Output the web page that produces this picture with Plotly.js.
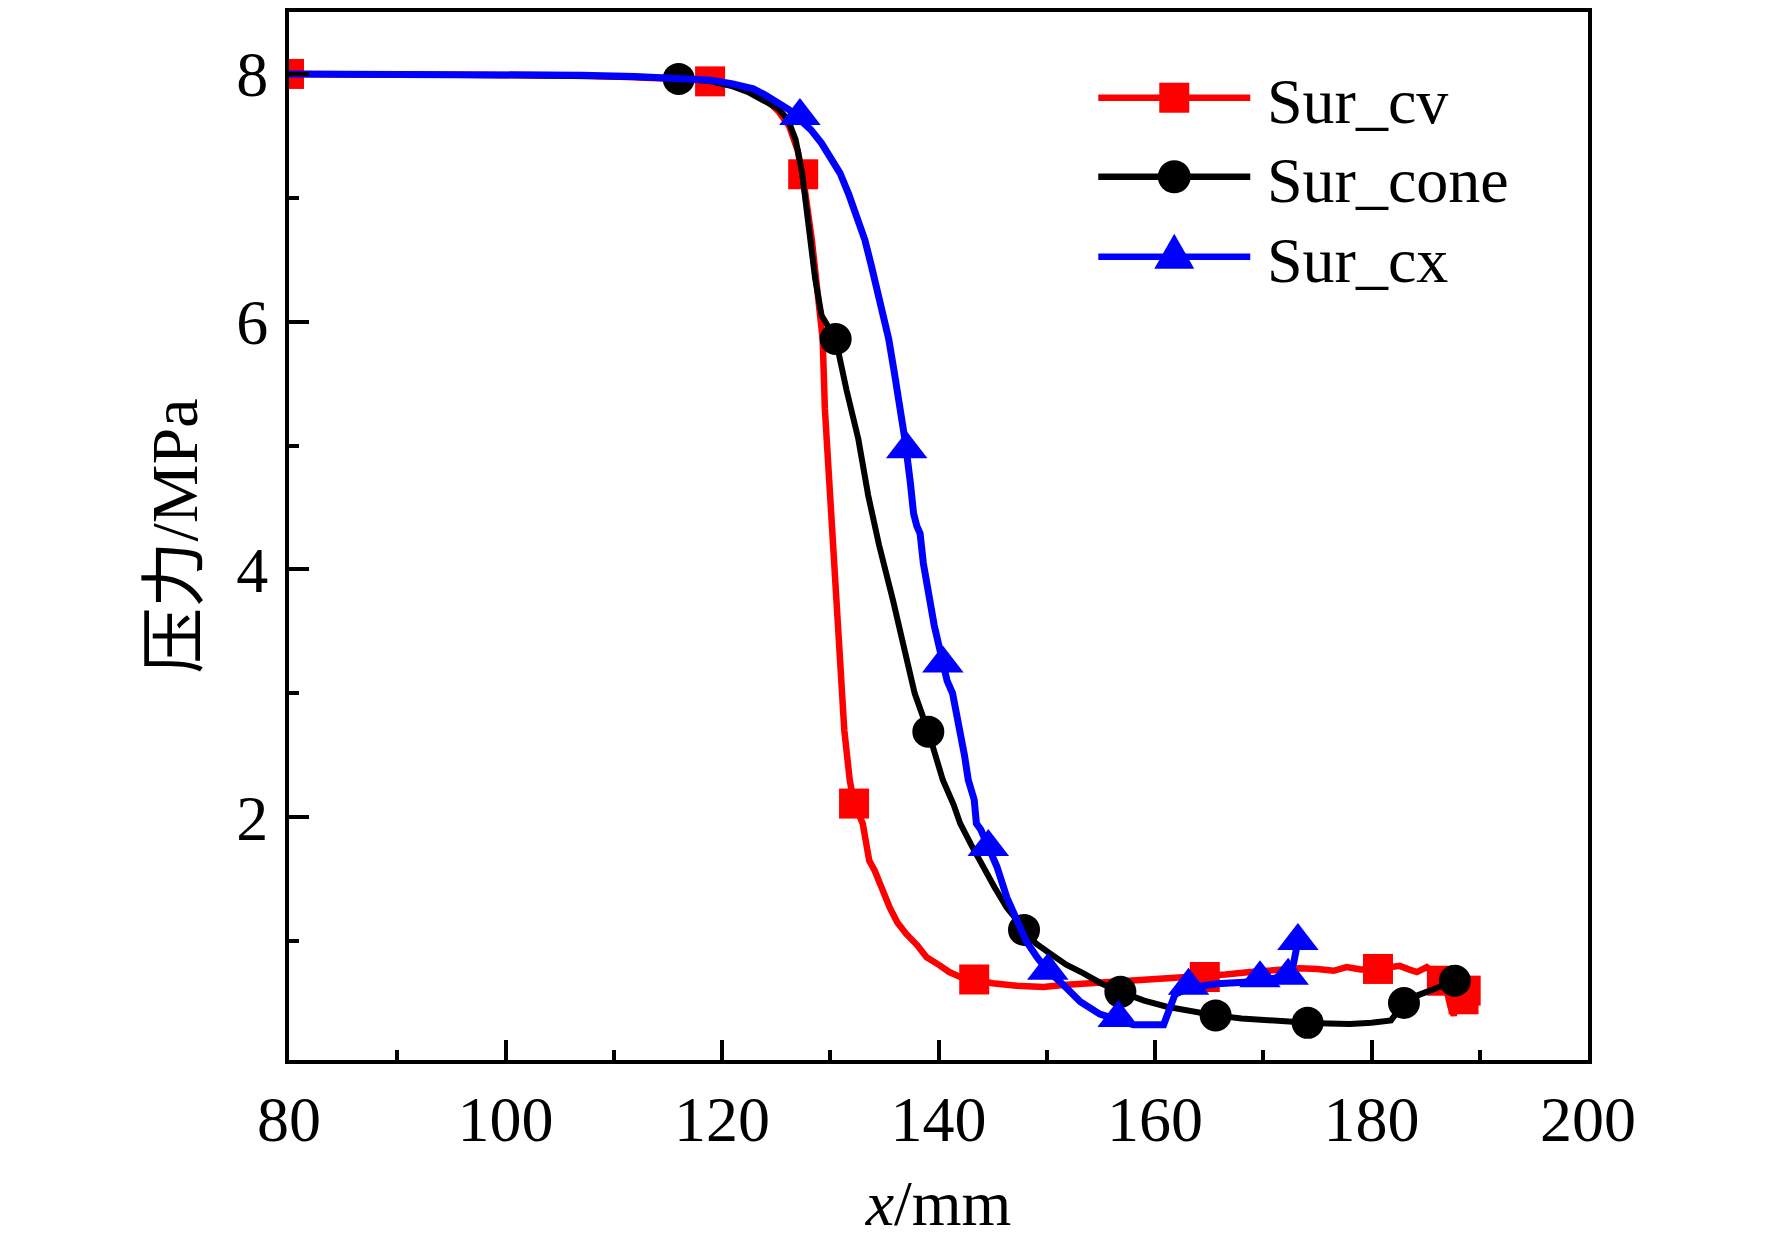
<!DOCTYPE html>
<html>
<head>
<meta charset="utf-8">
<script src="https://cdn.plot.ly/plotly-3.0.1.min.js"></script>
<style>
  html, body { margin: 0; padding: 0; background: #fff; }
  #chart { width: 1772px; height: 1252px; }
</style>
</head>
<body>
<div id="chart"></div>
<script>
/* Pressure along x for three surfaces: dense curves + sparse markers (Origin style) */

const SERIES_NAMES = ['Sur_cv', 'Sur_cone', 'Sur_cx'];
const SERIES_COLORS = ['#ff0000', '#000000', '#0000ff'];
const SERIES_SYMBOLS = ['square', 'circle', 'triangle-up'];

// Sur_cv
const cvX = [80, 90, 100, 105, 110, 114, 117, 119, 121, 122.5, 124, 125.2, 126.2, 127.0, 127.6,
  128.3, 128.8, 129.3, 129.5, 129.9, 130.3, 130.55, 131.0, 131.3, 131.5, 131.8, 132.2, 132.7, 133.0, 133.3,
  133.6, 134.1, 134.6, 135.5, 136.2, 137.0, 138.0, 138.9, 140.0, 141.0, 142.0, 143.3, 145.0, 147.2, 149.7,
  151.5, 153.4, 156.8, 159.0, 161.1, 164.5, 166.5, 168.8, 170.6, 172.0, 173.4, 175.0, 176.5, 177.7, 179.0,
  180.6, 181.5, 182.6, 183.5, 184.2, 185.1, 186.0, 186.8, 187.3, 187.6, 188.0, 188.6];
const cvY = [8.0, 8.0, 7.99, 7.99, 7.98, 7.97, 7.955, 7.94, 7.91, 7.87, 7.80, 7.70, 7.58, 7.38, 7.10,
  6.66, 6.25, 5.86, 5.3, 4.7, 4.15, 3.75, 3.1, 2.7, 2.54, 2.3, 2.11, 2.0, 1.95, 1.8,
  1.65, 1.57, 1.45, 1.27, 1.15, 1.06, 0.97, 0.87, 0.81, 0.75, 0.71, 0.69, 0.66, 0.64, 0.63,
  0.645, 0.655, 0.67, 0.68, 0.69, 0.71, 0.73, 0.75, 0.76, 0.775, 0.78, 0.775, 0.76, 0.79, 0.77,
  0.775, 0.79, 0.80, 0.77, 0.75, 0.79, 0.72, 0.66, 0.47, 0.40, 0.55, 0.60];
const cvMarkX = [80, 118.9, 127.5, 132.2, 143.3, 164.6, 180.6, 186.5, 188.7, 188.5];
const cvMarkY = [8.0, 7.94, 7.19, 2.11, 0.69, 0.71, 0.775, 0.68, 0.60, 0.53];

// Sur_cone
const coneX = [80, 90, 100, 110, 116, 119, 121, 122.5, 124, 125.2, 126.1, 126.8, 127.4, 127.8, 128.1,
  128.6, 129.2, 130.5, 131.5, 132.6, 133.5, 134.5, 135.8, 136.8, 137.8, 139.06, 140.4, 141.4, 142.0, 143.0,
  144.1, 145.2, 146.3, 147.9, 149.0, 150.3, 151.8, 153.4, 155.0, 156.8, 159.0, 161.1, 163.3, 165.6, 168.0,
  170.3, 172.2, 174.1, 176.0, 178.0, 180.0, 181.8, 183.0, 184.2, 185.4, 186.6, 187.7];
const coneY = [8.0, 8.0, 7.99, 7.98, 7.965, 7.94, 7.90, 7.85, 7.78, 7.72, 7.63, 7.47, 7.2, 6.9, 6.66,
  6.35, 6.05, 5.86, 5.45, 5.05, 4.6, 4.2, 3.75, 3.35, 3.0, 2.69, 2.30, 2.10, 1.95, 1.78,
  1.60, 1.43, 1.27, 1.09, 0.98, 0.90, 0.81, 0.74, 0.66, 0.59, 0.52, 0.47, 0.43, 0.40, 0.375,
  0.36, 0.35, 0.34, 0.335, 0.33, 0.34, 0.36, 0.50, 0.56, 0.60, 0.64, 0.68];
const coneMarkX = [116.0, 130.5, 139.06, 147.9, 156.8, 165.6, 174.1, 183.0, 187.7];
const coneMarkY = [7.96, 5.86, 2.69, 1.09, 0.59, 0.40, 0.34, 0.50, 0.68];

// Sur_cx
const cxX = [80, 90, 100, 107, 112, 116.1, 119, 121, 122.9, 124, 125, 126.2, 127.2, 128.2, 129.2,
  130.1, 130.9, 131.7, 132.5, 133.2, 133.8, 134.6, 135.4, 135.9, 136.3, 136.9, 137.4, 137.7, 138.0, 138.3,
  138.6, 138.9, 139.2, 139.6, 140.4, 140.8, 141.3, 141.8, 142.0, 142.4, 142.75, 143.3, 143.5, 143.9, 144.6,
  145.4, 146.3, 147.2, 148.1, 149.1, 150.1, 151.5, 153.1, 154.9, 156.6, 158.0, 160.8, 161.4, 161.85, 163.1,
  165.7, 168.2, 169.7, 171.0, 172.3, 172.8, 173.2];
const cxY = [8.0, 8.0, 7.995, 7.99, 7.98, 7.97, 7.95, 7.92, 7.88, 7.83, 7.78, 7.71, 7.63, 7.55, 7.44,
  7.32, 7.20, 7.03, 6.84, 6.66, 6.45, 6.15, 5.86, 5.6, 5.4, 5.05, 4.7, 4.45, 4.35, 4.29,
  4.05, 3.85, 3.75, 3.55, 3.24, 3.1, 3.0, 2.8, 2.72, 2.5, 2.30, 2.14, 1.95, 1.90, 1.76,
  1.60, 1.355, 1.17, 1.00, 0.87, 0.76, 0.65, 0.51, 0.41, 0.36, 0.325, 0.325, 0.47, 0.57, 0.62,
  0.655, 0.667, 0.695, 0.70, 0.72, 0.82, 1.0];
const cxMarkX = [127.2, 137.06, 140.4, 144.6, 150.1, 156.6, 163.1, 169.7, 172.3, 173.2];
const cxMarkY = [7.66, 4.97, 3.24, 1.76, 0.76, 0.38, 0.64, 0.70, 0.72, 1.0];

const X_TICKS = [80, 100, 120, 140, 160, 180, 200];
const Y_TICKS = [2, 4, 6, 8];

const LINES = [[cvX, cvY], [coneX, coneY], [cxX, cxY]];
const MARKS = [[cvMarkX, cvMarkY], [coneMarkX, coneMarkY], [cxMarkX, cxMarkY]];
const MARK_SIZES = [30, 32, 36];
const LINE_WIDTHS = [6.5, 6, 7];

const FONT = 'Liberation Serif, Times New Roman, Noto Sans CJK SC, serif';

const traces = [];
SERIES_NAMES.forEach((name, i) => {
  traces.push({
    x: LINES[i][0], y: LINES[i][1],
    type: 'scatter', mode: 'lines', name: name,
    line: { color: SERIES_COLORS[i], width: LINE_WIDTHS[i] },
    showlegend: false, hoverinfo: 'skip',
  });
  traces.push({
    x: MARKS[i][0], y: MARKS[i][1],
    type: 'scatter', mode: 'markers', name: name,
    marker: { color: SERIES_COLORS[i], symbol: SERIES_SYMBOLS[i], size: MARK_SIZES[i], line: { width: 0 } },
    showlegend: false, cliponaxis: true,
  });
});

// hand-made legend (Origin-like long sample line + big marker)
const LEG_X0 = 0.623, LEG_X1 = 0.740, LEG_MX = 0.6815, LEG_TX = 0.7513;
const LEG_ROWS = [0.9182, 0.8428, 0.7665];
const LEG_TEXT_DY = -0.0035;
const shapes = [];
const annotations = [];
SERIES_NAMES.forEach((name, i) => {
  const y = LEG_ROWS[i];
  shapes.push({
    type: 'line', xref: 'paper', yref: 'paper', x0: LEG_X0, x1: LEG_X1, y0: y, y1: y,
    line: { color: SERIES_COLORS[i], width: 6.5 },
  });
  const base = {
    xref: 'paper', yref: 'paper', xsizemode: 'pixel', ysizemode: 'pixel',
    xanchor: LEG_MX, yanchor: y, fillcolor: SERIES_COLORS[i], line: { width: 0 },
  };
  if (SERIES_SYMBOLS[i] === 'square') {
    shapes.push(Object.assign({ type: 'rect', x0: -15, x1: 15, y0: -15, y1: 15 }, base));
  } else if (SERIES_SYMBOLS[i] === 'circle') {
    shapes.push(Object.assign({ type: 'circle', x0: -16.5, x1: 16.5, y0: -16.5, y1: 16.5 }, base));
  } else {
    shapes.push(Object.assign({ type: 'path', path: 'M-20,-12L20,-12L0,23Z' }, base));
  }
  annotations.push({
    text: name, xref: 'paper', yref: 'paper', x: LEG_TX, y: y + LEG_TEXT_DY,
    xanchor: 'left', yanchor: 'middle', showarrow: false,
    font: { family: FONT, size: 64, color: '#000' },
  });
});

const layout = {
  width: 1772, height: 1252,
  margin: { l: 289, r: 184, t: 12, b: 192 },
  paper_bgcolor: '#fff', plot_bgcolor: '#fff',
  font: { family: FONT, color: '#000', size: 64 },
  showlegend: false,
  xaxis: {
    range: [80, 200], tickvals: X_TICKS, ticktext: X_TICKS.map(String),
    ticks: 'inside', ticklen: 20, tickwidth: 4, tickcolor: '#000',
    minor: { dtick: 10, tick0: 0, ticks: 'inside', ticklen: 10, tickwidth: 4, tickcolor: '#000' },
    showline: true, linewidth: 4, linecolor: '#000', mirror: true,
    showgrid: false, zeroline: false,
    tickfont: { family: FONT, size: 64 },
    ticklabelstandoff: 0,
    title: { text: '<i>x</i>/mm', font: { family: FONT, size: 64 }, standoff: 27 },
  },
  yaxis: {
    range: [0.04, 8.5], tickvals: Y_TICKS, ticktext: Y_TICKS.map(String),
    ticks: 'inside', ticklen: 20, tickwidth: 4, tickcolor: '#000',
    minor: { dtick: 1, tick0: 0, ticks: 'inside', ticklen: 10, tickwidth: 4, tickcolor: '#000' },
    showline: true, linewidth: 4, linecolor: '#000', mirror: true,
    showgrid: false, zeroline: false,
    tickfont: { family: FONT, size: 64 },
    ticklabelstandoff: 4,
    title: { text: '压力/MPa', font: { family: FONT, size: 66 }, standoff: 18 },
  },
  shapes: shapes,
  annotations: annotations,
};

Plotly.newPlot('chart', traces, layout, { displayModeBar: false, staticPlot: true });
</script>
</body>
</html>
